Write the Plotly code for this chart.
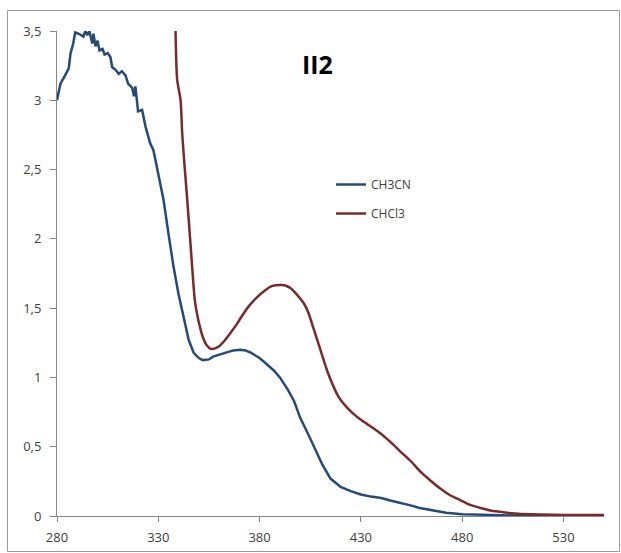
import plotly.graph_objects as go

# --- data ---
ch3cn_nm = [280, 281.7, 284, 285.8, 286.7, 288, 289, 290.8, 293, 294, 295, 296, 297.4, 298, 299, 300,
            301, 302.5, 303.5, 305, 306.4, 307.2, 308.9, 310.5, 312, 313.8, 315.1, 317.1, 318, 318.7,
            320, 322, 323.7, 326, 327.6, 330, 332.6, 335, 337.5, 340, 343, 345, 347.4, 350, 352, 355,
            357, 360, 364, 367, 370.6, 373, 375.5, 380, 384, 387, 390, 394, 397, 400, 404, 407.6, 411,
            415, 420, 425, 430, 435, 440, 445, 450, 455, 459, 465, 472, 480, 486, 495, 505, 520, 535, 550]
ch3cn_abs = [3.00, 3.12, 3.18, 3.23, 3.34, 3.41, 3.49, 3.48, 3.46, 3.50, 3.47, 3.50, 3.41, 3.48, 3.39, 3.43,
             3.36, 3.37, 3.33, 3.34, 3.31, 3.24, 3.22, 3.19, 3.21, 3.18, 3.12, 3.09, 3.03, 3.10,
             2.92, 2.93, 2.81, 2.69, 2.64, 2.47, 2.28, 2.04, 1.80, 1.60, 1.40, 1.27, 1.18, 1.14, 1.125, 1.13,
             1.15, 1.165, 1.18, 1.195, 1.20, 1.195, 1.18, 1.14, 1.09, 1.05, 1.00, 0.91, 0.83, 0.71, 0.59, 0.48, 0.37,
             0.27, 0.21, 0.18, 0.155, 0.14, 0.13, 0.11, 0.094, 0.075, 0.058, 0.04, 0.024, 0.013, 0.01, 0.006, 0.004,
             0.003, 0.003, 0.003]

chcl3_nm = [338.5, 339.3, 341, 341.8, 343, 344.3, 345.5, 346.7, 348, 349.5, 350.8, 352, 354, 356, 358, 360,
            363, 365.6, 369, 372, 375, 378.8, 382, 385.4, 388, 391, 393, 395.2, 398, 401.8, 404, 406.7,
            410, 413.3, 416.6, 419, 421.5, 424, 426.5, 430, 433, 436, 439.7, 443, 446, 449.5, 455, 459.4, 464, 469,
            474, 479, 484, 489, 494, 499, 504, 509, 519, 530, 550]
chcl3_abs = [3.50, 3.15, 3.00, 2.76, 2.52, 2.28, 2.04, 1.80, 1.56, 1.43, 1.35, 1.29, 1.23, 1.205, 1.21, 1.225,
             1.27, 1.32, 1.39, 1.46, 1.52, 1.58, 1.62, 1.655, 1.665, 1.667, 1.662, 1.645, 1.605, 1.535, 1.47, 1.35,
             1.20, 1.05, 0.93, 0.86, 0.81, 0.77, 0.735, 0.695, 0.665, 0.635, 0.595, 0.555, 0.515, 0.465, 0.39, 0.32, 0.26, 0.20,
             0.15, 0.115, 0.08, 0.058, 0.04, 0.03, 0.02, 0.015, 0.01, 0.008, 0.008]

x_ticks = [280, 330, 380, 430, 480, 530]
y_ticks = [0, 0.5, 1, 1.5, 2, 2.5, 3, 3.5]
y_ticktext = ["0", "0,5", "1", "1,5", "2", "2,5", "3", "3,5"]

series_names = ["CH3CN", "CHCl3"]
colors = ["#264A78", "#772B2B"]
title_text = "II2"

fig = go.Figure()
fig.add_trace(go.Scatter(x=ch3cn_nm, y=ch3cn_abs, mode="lines", name=series_names[0],
                         legendgroup="a", line=dict(color=colors[0], width=2.5)))
fig.add_trace(go.Scatter(x=chcl3_nm, y=chcl3_abs, mode="lines", name=series_names[1],
                         legendgroup="b",
                         line=dict(color=colors[1], width=2.5, shape="spline", smoothing=0.6)))

W, H = 621, 553
L, R, T, B = 57, 17, 31, 37
pw, ph = W - L - R, H - T - B

def px2paper_x(px):
    return (px - L) / pw

def px2paper_y(py):
    return (H - B - py) / ph

tick_font = dict(size=13, color="#404040", family="Open Sans, Liberation Sans, sans-serif")

fig.update_layout(
    width=W, height=H,
    margin=dict(l=L, r=R, t=T, b=B, pad=0, autoexpand=False),
    paper_bgcolor="white", plot_bgcolor="white",
    font=dict(family="Open Sans, Liberation Sans, sans-serif", size=12, color="#404040"),
    showlegend=True,
    legend=dict(x=px2paper_x(331), y=px2paper_y(170), xanchor="left", yanchor="top",
                bgcolor="rgba(0,0,0,0)", traceorder="grouped", tracegroupgap=10,
                font=dict(size=12, color="#404040")),
    xaxis=dict(range=[280, 550], tickvals=x_ticks, showgrid=False, zeroline=False,
               showline=True, linecolor="#868686", linewidth=1, ticks="outside",
               ticklen=5, tickcolor="#868686", tickfont=tick_font, ticklabelstandoff=4,
               automargin=False),
    yaxis=dict(range=[0, 3.5], tickvals=y_ticks, ticktext=y_ticktext, showgrid=False,
               zeroline=False, showline=True, linecolor="#868686", linewidth=1,
               ticks="outside", ticklen=6, tickcolor="#868686",
               tickfont=tick_font, ticklabelstandoff=6, automargin=False),
    annotations=[dict(text="<b>" + title_text + "</b>", x=px2paper_x(317), y=px2paper_y(45),
                      xref="paper", yref="paper", showarrow=False,
                      font=dict(size=25, color="black",
                                family="Open Sans, Liberation Sans, sans-serif"))],
    shapes=[dict(type="rect", xref="paper", yref="paper",
                 x0=px2paper_x(7.5), x1=px2paper_x(619.5),
                 y0=px2paper_y(551.5), y1=px2paper_y(10.5),
                 line=dict(color="#9a9a9a", width=1), layer="below")],
)

fig.write_html("out.html")
